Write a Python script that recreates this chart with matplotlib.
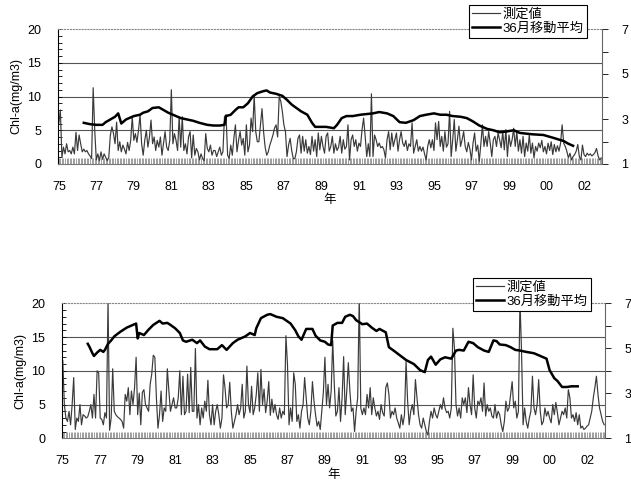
import numpy as np
import matplotlib
matplotlib.use("Agg")
import matplotlib.pyplot as plt
from matplotlib.lines import Line2D

plt.rcParams['font.family'] = ['Liberation Sans', 'Noto Sans CJK JP', 'DejaVu Sans']

# monthly Chl-a (mg/m3), Jan 1975 - Dec 2003, one row per year
top_measured = [
    6.0, 8.0, 1.0, 2.5, 1.5, 3.0, 1.8, 2.0, 1.5, 2.5, 1.5, 4.7,
    2.0, 4.3, 3.0, 1.8, 2.2, 1.8, 2.0, 1.5, 1.2, 0.8, 11.3, 5.0,
    0.6, 1.5, 0.5, 1.8, 0.7, 1.5, 1.0, 0.5, 1.0, 4.3, 5.5, 4.5,
    3.0, 6.2, 2.0, 3.3, 1.8, 2.8, 2.2, 1.5, 3.2, 2.0, 3.5, 7.0,
    3.5, 4.5, 3.2, 5.0, 7.3, 3.0, 1.3, 3.5, 5.0, 2.5, 4.0, 6.5,
    3.0, 4.0, 2.0, 3.5, 2.5, 4.0, 1.3, 3.0, 4.8, 2.5, 2.0, 3.5,
    11.0, 3.0, 4.5, 3.5, 2.0, 7.0, 2.5, 7.0, 2.0, 3.0, 1.5, 4.0,
    4.8, 0.9, 4.3, 1.3, 2.3, 1.8, 0.6, 1.5, 0.8, 0.5, 4.5, 2.3,
    1.8, 2.8, 1.3, 2.0, 2.0, 1.1, 1.8, 2.5, 1.3, 1.8, 7.0, 7.3,
    1.3, 0.8, 2.8, 1.3, 3.8, 5.8, 1.8, 3.5, 4.8, 2.8, 3.8, 1.3,
    5.8, 1.8, 2.8, 6.8, 4.8, 10.2, 4.8, 3.3, 3.3, 5.8, 8.2, 4.8,
    2.5, 1.3, 1.8, 2.8, 3.5, 4.3, 5.3, 5.8, 4.0, 10.0, 9.3, 7.8,
    5.8, 4.8, 1.1, 2.8, 3.8, 2.0, 0.8, 0.8, 1.8, 3.8, 4.3, 1.6,
    4.1, 1.9, 3.6, 1.6, 2.6, 1.4, 4.1, 1.9, 3.6, 1.1, 4.6, 2.1,
    4.1, 2.6, 1.6, 4.1, 4.6, 1.9, 2.6, 4.1, 1.6, 3.0, 2.0, 2.5,
    4.1, 1.6, 3.6, 2.2, 2.6, 5.8, 0.6, 3.6, 4.3, 2.6, 3.6, 1.9,
    3.1, 2.6, 5.1, 6.8, 4.1, 1.1, 3.0, 1.1, 10.4, 1.1, 4.3, 3.6,
    2.6, 3.1, 2.4, 2.6, 2.1, 0.9, 3.6, 4.8, 2.1, 4.6, 2.6, 3.6,
    4.6, 1.9, 3.6, 4.8, 3.1, 2.6, 3.5, 2.0, 3.0, 2.6, 6.1, 1.6,
    2.6, 3.6, 1.9, 2.6, 1.9, 2.5, 1.5, 0.6, 2.6, 3.6, 2.4, 3.6,
    2.0, 6.1, 3.6, 6.3, 2.6, 4.1, 1.9, 4.8, 2.5, 3.0, 7.8, 1.1,
    3.6, 6.6, 1.9, 3.6, 5.6, 2.6, 3.6, 4.8, 2.6, 1.8, 3.2, 2.2,
    0.6, 3.1, 4.6, 1.9, 2.8, 0.4, 3.0, 5.8, 2.6, 4.1, 2.6, 4.8,
    3.1, 1.1, 3.6, 4.1, 2.6, 4.6, 3.6, 2.4, 4.8, 2.1, 5.1, 1.1,
    4.3, 2.6, 3.6, 5.3, 2.6, 4.8, 1.9, 3.6, 1.6, 4.1, 1.1, 3.1,
    1.9, 4.3, 1.6, 3.1, 0.9, 2.6, 1.9, 3.1, 2.4, 3.5, 1.8, 2.6,
    1.5, 3.1, 2.0, 3.3, 1.4, 2.9, 1.8, 2.7, 1.9, 3.1, 5.8, 3.1,
    2.6, 1.9, 0.9, 1.6, 0.6, 1.1, 1.4, 1.9, 2.9, 1.1, 0.6, 2.8,
    1.4, 1.1, 1.6, 1.3, 1.5, 1.2, 1.4, 1.7, 2.3, 1.2, 0.6, 0.9,
]

bottom_measured = [
    11.5, 5.0, 3.0, 2.5, 4.0, 2.0, 5.0, 9.0, 1.3, 3.0, 2.5, 5.0,
    2.0, 3.5, 3.3, 3.0, 3.2, 4.0, 5.0, 3.0, 6.5, 3.0, 10.0, 9.7,
    3.0, 2.8, 2.0, 3.8, 3.0, 20.5, 1.2, 3.0, 10.3, 4.0, 3.5, 3.2,
    3.0, 2.8, 2.5, 1.5, 6.5, 5.5, 7.5, 3.5, 7.0, 5.0, 7.5, 12.0,
    3.5, 6.7, 2.0, 6.8, 7.2, 5.0, 4.5, 4.0, 8.0, 9.5, 12.3, 12.0,
    6.0, 1.5, 3.5, 7.0, 2.5, 4.5, 4.0, 10.3, 7.0, 4.0, 5.0, 6.0,
    4.5, 4.5, 6.0, 10.0, 3.5, 9.2, 3.5, 4.0, 9.5, 3.8, 10.5, 4.0,
    4.0, 13.3, 3.0, 5.0, 2.0, 4.5, 3.0, 5.5, 4.0, 8.6, 3.5, 2.0,
    5.0, 2.0, 4.0, 5.0, 3.5, 1.5, 3.0, 9.4, 7.4, 4.5, 5.0, 8.3,
    4.0, 1.5, 2.5, 3.5, 5.0, 3.5, 4.5, 8.0, 3.0, 4.0, 10.7, 5.0,
    3.8, 7.7, 3.5, 4.5, 6.5, 9.7, 4.0, 10.2, 5.0, 7.3, 3.8, 5.5,
    8.4, 3.4, 5.8, 3.8, 5.0, 3.5, 2.8, 4.5, 3.0, 4.0, 3.5, 15.2,
    11.0, 2.0, 4.5, 2.5, 9.7, 8.0, 2.5, 3.5, 1.5, 4.0, 5.0, 9.0,
    6.0, 3.0, 2.0, 4.0, 8.4, 5.5, 3.5, 1.8, 2.5, 1.3, 4.0, 6.8,
    12.0, 5.0, 8.0, 4.5, 7.0, 14.5, 8.0, 3.3, 4.0, 7.5, 2.5, 6.0,
    12.1, 3.5, 7.0, 11.2, 7.0, 4.0, 4.5, 1.0, 4.0, 6.0, 21.0, 4.5,
    3.5, 4.5, 3.5, 6.5, 4.5, 7.5, 3.5, 6.0, 4.5, 3.3, 4.0, 2.8,
    5.0, 3.8, 3.3, 7.5, 8.2, 6.5, 3.0, 4.0, 3.5, 4.5, 3.0, 2.3,
    1.5, 3.5, 2.0, 3.5, 11.4, 5.5, 2.0, 4.0, 5.0, 3.5, 8.7, 6.0,
    3.5, 2.0, 1.5, 3.0, 2.0, 1.0, 0.5, 2.5, 4.0, 3.0, 4.5, 3.5,
    3.0, 4.0, 5.0, 4.3, 6.0, 4.5, 3.8, 4.0, 3.0, 4.5, 16.3, 13.4,
    5.0, 3.3, 4.5, 3.0, 6.0, 5.0, 6.0, 3.8, 7.5, 5.0, 3.5, 9.4,
    4.5, 3.0, 5.5, 5.0, 6.0, 4.0, 8.2, 3.3, 5.0, 4.0, 4.5, 3.3,
    3.0, 5.0, 3.0, 4.0, 3.5, 2.0, 1.0, 2.5, 5.5, 4.0, 4.5, 6.5,
    8.4, 4.5, 5.5, 3.0, 4.0, 20.5, 12.9, 2.0, 4.5, 2.5, 1.5, 3.0,
    4.0, 9.2, 4.5, 3.5, 5.0, 8.7, 4.0, 2.0, 2.5, 4.5, 3.3, 4.0,
    3.0, 2.3, 5.0, 3.5, 5.3, 3.8, 2.0, 3.0, 4.0, 3.5, 4.5, 3.0,
    7.2, 6.0, 3.0, 3.5, 2.5, 3.8, 2.0, 3.5, 1.5, 1.8, 1.3, 1.5,
    1.8, 2.0, 3.0, 4.0, 6.0, 7.5, 9.2, 6.5, 4.5, 3.5, 2.5, 2.0,
]

# 36-month moving average (right axis), month index and value
top_ma_month = [16, 20, 24, 28, 30, 33, 36, 38, 40, 43, 48, 52, 54, 57, 60, 64, 67, 70, 73, 78,
                82, 86, 90, 95, 99, 103, 106, 107, 110, 113, 115, 118, 121, 124, 127, 131, 133, 135, 139, 143,
                146, 149, 152, 155, 159, 162, 164, 167, 171, 176, 178, 181, 184, 188, 193, 197, 201, 205, 210, 214,
                218, 222, 227, 231, 235, 240, 244, 248, 252, 257, 261, 265, 269, 274, 278, 282, 286, 291, 295, 303,
                310, 316, 323, 326, 329]
top_ma = [2.83, 2.77, 2.74, 2.74, 2.86, 2.98, 3.10, 3.25, 2.80, 2.98, 3.13, 3.19, 3.28, 3.34, 3.49, 3.52, 3.40, 3.28, 3.19, 3.04,
          2.98, 2.92, 2.83, 2.74, 2.71, 2.71, 2.74, 3.13, 3.19, 3.40, 3.52, 3.52, 3.70, 4.00, 4.15, 4.24, 4.27, 4.18, 4.12, 4.03,
          3.85, 3.64, 3.49, 3.34, 3.19, 2.83, 2.65, 2.65, 2.65, 2.59, 2.74, 3.04, 3.13, 3.13, 3.19, 3.22, 3.25, 3.31, 3.25, 3.13,
          2.86, 2.83, 2.95, 3.13, 3.19, 3.25, 3.19, 3.19, 3.13, 3.10, 3.04, 2.89, 2.71, 2.56, 2.50, 2.41, 2.44, 2.50, 2.38, 2.32,
          2.29, 2.17, 2.02, 1.90, 1.81]

bottom_ma_month = [16, 17, 19, 20, 22, 24, 26, 27, 29, 31, 33, 37, 41, 45, 47, 48, 49, 52, 55, 58,
                   62, 64, 67, 69, 72, 75, 77, 79, 83, 86, 88, 91, 94, 99, 102, 105, 109, 112, 117, 120,
                   123, 124, 127, 131, 133, 137, 141, 146, 149, 151, 153, 156, 160, 162, 165, 168, 170, 172, 173, 176,
                   179, 181, 184, 186, 188, 192, 195, 198, 201, 203, 207, 209, 212, 216, 220, 225, 229, 232, 234, 236,
                   239, 242, 245, 249, 252, 254, 257, 260, 263, 266, 270, 273, 276, 278, 280, 284, 287, 290, 293, 297,
                   302, 306, 310, 312, 315, 317, 320, 323, 326, 330]
bottom_ma = [5.20, 5.08, 4.78, 4.66, 4.81, 4.93, 4.84, 4.93, 5.20, 5.35, 5.53, 5.74, 5.92, 6.04, 6.10, 5.44, 5.68, 5.59, 5.83, 6.04,
             6.22, 6.10, 6.13, 6.04, 5.89, 5.68, 5.35, 5.29, 5.38, 5.23, 5.35, 5.08, 4.96, 4.96, 5.14, 4.93, 5.23, 5.38, 5.53, 5.68,
             5.59, 5.89, 6.34, 6.49, 6.52, 6.40, 6.34, 6.10, 5.80, 5.53, 5.38, 5.86, 5.86, 5.56, 5.35, 5.29, 5.17, 5.14, 6.01, 6.13,
             6.13, 6.40, 6.49, 6.43, 6.25, 6.07, 6.10, 5.92, 5.77, 5.86, 5.71, 5.05, 4.90, 4.69, 4.48, 4.30, 4.03, 3.94, 4.48, 4.63,
             4.27, 4.51, 4.60, 4.54, 4.90, 4.93, 4.90, 5.29, 5.23, 5.05, 4.90, 4.84, 5.35, 5.32, 5.17, 5.14, 5.05, 4.93, 4.90, 4.84,
             4.78, 4.66, 4.54, 4.03, 3.67, 3.55, 3.28, 3.28, 3.31, 3.31]

year_labels = ['75', '77', '79', '81', '83', '85', '87', '89', '91', '93', '95', '97', '99', '00', '02']
legend_labels = ['測定値', '36月移動平均']

W, H = 631, 480
fig = plt.figure(figsize=(W / 100, H / 100), dpi=100)


def panel(rect, measured, ma_m, ma_v, legend_xy):
    ax = fig.add_axes(rect)
    months = np.arange(len(measured))
    ax.plot(months, measured, color='#3a3a3a', lw=0.85)
    ax.set_xlim(-0.5, len(measured) - 0.5)
    ax.set_ylim(0, 20)
    for y in (5, 10, 15):
        ax.axhline(y, color='#555555', lw=0.8, zorder=0)

    ax.set_xticks(np.arange(0, 24 * len(year_labels), 24))
    ax.set_xticklabels(year_labels)
    ax.set_xticks(months, minor=True)
    ax.tick_params(axis='x', which='both', direction='in', length=4, width=0.5,
                   color='#777777', labelsize=9, pad=12)
    ax.set_yticks([0, 5, 10, 15, 20])
    ax.set_yticks(np.arange(0, 21, 1), minor=True)
    ax.tick_params(axis='y', which='both', direction='in', length=3, width=0.6,
                   labelsize=9, pad=12)

    ax.spines['top'].set_linestyle(':')
    ax.spines['top'].set_color('#888888')
    ax.spines['right'].set_visible(False)
    ax.spines['bottom'].set_color('#777777')
    ax.spines['left'].set_linewidth(0.8)
    ax.set_ylabel('Chl-a(mg/m3)', fontsize=9)
    ax.yaxis.set_label_coords(-0.066, 0.5)
    ax.set_xlabel('年', fontsize=9)
    ax.xaxis.set_label_coords(0.5, -0.225)

    ax2 = ax.twinx()
    ax2.plot(ma_m, ma_v, color='black', lw=1.8)
    ax2.set_ylim(1, 7)
    ax2.set_yticks([1, 3, 5, 7])
    ax2.set_yticks([2, 4, 6], minor=True)
    ax2.tick_params(axis='y', which='both', direction='out', length=4, width=0.6,
                    labelsize=9, pad=10)
    for s in ('left', 'top', 'bottom'):
        ax2.spines[s].set_visible(False)
    ax2.spines['right'].set_color('#666666')
    ax2.spines['right'].set_linewidth(0.8)

    handles = [Line2D([], [], color='#3a3a3a', lw=0.85),
               Line2D([], [], color='black', lw=1.8)]
    leg = ax2.legend(handles, legend_labels, loc='upper left',
                     bbox_to_anchor=legend_xy, bbox_transform=fig.transFigure,
                     fontsize=9.5, frameon=True, fancybox=False, framealpha=1,
                     edgecolor='black', borderpad=0.25, labelspacing=0.15,
                     handlelength=2.1, handletextpad=0.2, borderaxespad=0)
    leg.get_frame().set_linewidth(0.8)
    return ax


panel([58 / W, 1 - 164 / H, 544 / W, 135 / H], top_measured, top_ma_month, top_ma,
      (469 / W, 1 - 5 / H))
panel([62 / W, 1 - 438.3 / H, 543 / W, 135 / H], bottom_measured, bottom_ma_month, bottom_ma,
      (473 / W, 1 - 278 / H))

fig.savefig('out.png', dpi=100)
